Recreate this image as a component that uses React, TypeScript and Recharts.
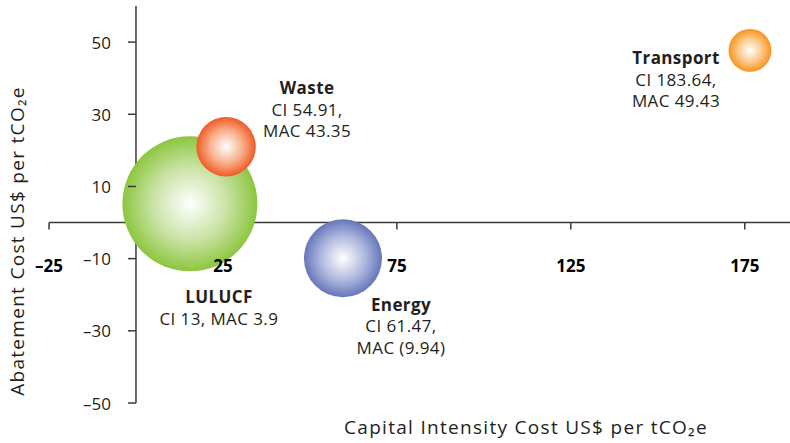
import React from "react";
import {
  ScatterChart,
  Scatter,
  XAxis,
  YAxis,
  ZAxis,
  ReferenceLine,
} from "recharts";

const categories = ["LULUCF", "Waste", "Energy", "Transport"];
const capitalIntensity = [15.5, 25.9, 59.5, 176.5];
const abatementCost = [5.2, 21, -9.9, 47.7];
const bubbleSize = [100, 19.4, 33.4, 10.1];
const ciLabels = ["13", "54.91", "61.47", "183.64"];
const macLabels = ["3.9", "43.35", "(9.94)", "49.43"];
const xTicks = [-25, 25, 75, 125, 175];
const yTicks = [-50, -30, -10, 10, 30, 50];

const X_DOMAIN = [-25, 188];
const Y_DOMAIN = [-50, 60];

const W = 790;
const H = 443;
const Y_AXIS_W = 49;
const X_AXIS_H = 30;
const margin = { top: 6, right: 0, bottom: 10, left: 0 };
const plotLeft = margin.left + Y_AXIS_W;
const plotW = W - plotLeft - margin.right;
const plotH = H - margin.top - margin.bottom - X_AXIS_H;
// pixel positions where the axes cross zero
const xZero = plotLeft + ((0 - X_DOMAIN[0]) / (X_DOMAIN[1] - X_DOMAIN[0])) * plotW;
const yZero = margin.top + ((Y_DOMAIN[1] - 0) / (Y_DOMAIN[1] - Y_DOMAIN[0])) * plotH;
// x tick mark length (7px) expressed in y units
const tickLen = (7 / plotH) * (Y_DOMAIN[1] - Y_DOMAIN[0]);

const FONT = "'Open Sans', sans-serif";
const TEXT = "#231f20";
const AXIS = "#3a3a3a";

const colors: Record<string, [string, string]> = {
  LULUCF: ["#c9e3a4", "#8cc63f"],
  Waste: ["#f7b08c", "#f15a24"],
  Energy: ["#b2bbdf", "#6576b9"],
  Transport: ["#fbc98a", "#f7931e"],
};

const labelLayout: Record<string, { dx: number; dy: number; oneLine?: boolean }> = {
  LULUCF: { dx: 29, dy: 93, oneLine: true },
  Waste: { dx: 81, dy: -59 },
  Energy: { dx: 58, dy: 46 },
  Transport: { dx: -74, dy: 7.5 },
};

const data = categories.map((name, i) => ({
  name,
  x: capitalIntensity[i],
  y: abatementCost[i],
  z: bubbleSize[i],
  ci: ciLabels[i],
  mac: macLabels[i],
}));

const fmt = (v: number) => (v < 0 ? `\u2013${Math.abs(v)}` : `${v}`);

const Bubble = (props: any) => {
  const { cx, cy, payload } = props;
  const r = props.width ? props.width / 2 : Math.sqrt(props.size / Math.PI);
  const lay = labelLayout[payload.name];
  const lx = cx + lay.dx;
  const lh = 21.5;
  const lines = lay.oneLine
    ? [`CI ${payload.ci}, MAC ${payload.mac}`]
    : [`CI ${payload.ci},`, `MAC ${payload.mac}`];
  return (
    <g>
      <circle cx={cx} cy={cy} r={r} fill={`url(#grad-${payload.name})`} />
      <g fontFamily={FONT} fontSize={17} fill={TEXT} textAnchor="middle" letterSpacing={0.4}>
        <text x={lx} y={cy + lay.dy} dominantBaseline="central" fontWeight={700}>
          {payload.name}
        </text>
        {lines.map((t, i) => (
          <text key={i} x={lx} y={cy + lay.dy + lh * (i + 1)} dominantBaseline="central">
            {t}
          </text>
        ))}
      </g>
    </g>
  );
};

const XTick = (props: any) => {
  const { x, payload } = props;
  return (
    <text
      x={x}
      y={yZero + 43}
      textAnchor="middle"
      dominantBaseline="central"
      fontFamily={FONT}
      fontSize={17}
      fontWeight={700}
      fill="#000"
    >
      {fmt(payload.value)}
    </text>
  );
};

const YTick = (props: any) => {
  const { y, payload } = props;
  return (
    <g>
      <line x1={xZero - 8} x2={xZero} y1={y} y2={y} stroke={AXIS} strokeWidth={1.5} />
      <text
        x={xZero - 25}
        y={y}
        textAnchor="end"
        dominantBaseline="central"
        fontFamily={FONT}
        fontSize={17}
        fill={TEXT}
      >
        {fmt(payload.value)}
      </text>
    </g>
  );
};

export default function App() {
  return (
    <div style={{ position: "absolute", left: 0, top: 0, width: W, height: H, background: "#fff" }}>
      <ScatterChart width={W} height={H} margin={margin}>
        <defs>
          {categories.map((c) => (
            <radialGradient key={c} id={`grad-${c}`} cx="50%" cy="50%" r="50%">
              <stop offset="0%" stopColor="#ffffff" />
              <stop offset="55%" stopColor={colors[c][0]} />
              <stop offset="100%" stopColor={colors[c][1]} />
            </radialGradient>
          ))}
        </defs>
        <XAxis
          type="number"
          dataKey="x"
          domain={X_DOMAIN}
          ticks={xTicks}
          height={X_AXIS_H}
          axisLine={false}
          tickLine={false}
          allowDataOverflow
          tick={(p: any) => <XTick {...p} />}
          interval={0}
        />
        <YAxis
          type="number"
          dataKey="y"
          domain={Y_DOMAIN}
          ticks={yTicks}
          width={Y_AXIS_W}
          axisLine={false}
          tickLine={false}
          allowDataOverflow
          tick={(p: any) => <YTick {...p} />}
          interval={0}
        />
        <ZAxis type="number" dataKey="z" domain={[0, 100]} range={[0, Math.PI * 67.5 * 67.5]} />
        <ReferenceLine y={0} stroke={AXIS} strokeWidth={1.5} />
        <ReferenceLine x={0} stroke={AXIS} strokeWidth={1.5} />
        {xTicks.map((t) => (
          <ReferenceLine
            key={t}
            segment={[
              { x: t, y: 0 },
              { x: t, y: -tickLen },
            ]}
            stroke={AXIS}
            strokeWidth={1.5}
          />
        ))}
        <Scatter data={data} shape={(p: any) => <Bubble {...p} />} isAnimationActive={false} />
        <text
          x={526}
          y={427}
          textAnchor="middle"
          dominantBaseline="central"
          fontFamily={FONT}
          fontSize={19}
          letterSpacing={1.3}
          fill={TEXT}
        >
          Capital Intensity Cost US$ per tCO₂e
        </text>
        <text
          x={17}
          y={241}
          transform="rotate(-90 17 241)"
          textAnchor="middle"
          dominantBaseline="central"
          fontFamily={FONT}
          fontSize={19}
          letterSpacing={1.3}
          fill={TEXT}
        >
          Abatement Cost US$ per tCO₂e
        </text>
      </ScatterChart>
    </div>
  );
}
